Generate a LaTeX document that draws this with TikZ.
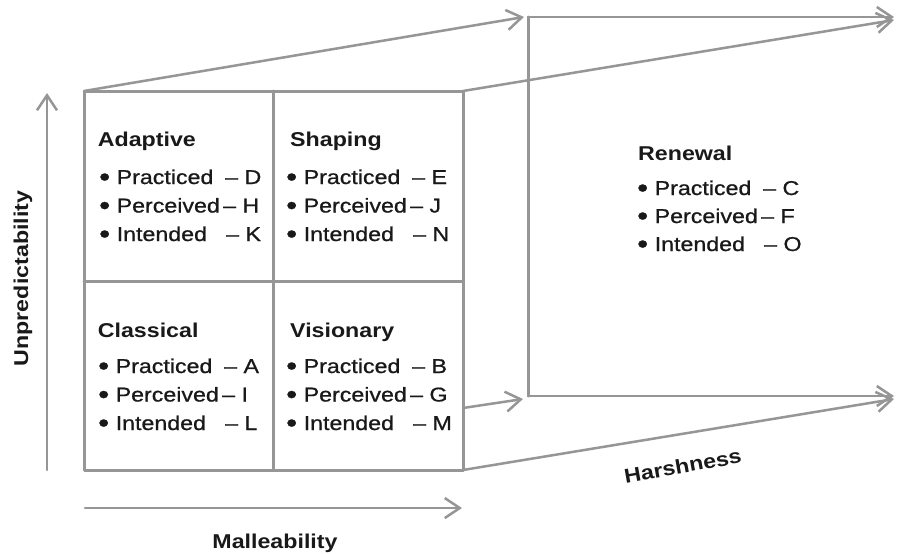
\documentclass[tikz,border=0pt]{standalone}
\usepackage{fontspec}
\setmainfont{Liberation Sans}[FakeStretch=1.16]
\newfontfamily\itmfont{Liberation Sans}[FakeStretch=1.16, FakeBold=0.8]
\usetikzlibrary{arrows.meta}
\definecolor{lineg}{RGB}{150,150,150}
\definecolor{txt}{RGB}{25,25,25}
\newcommand{\bigbul}{\makebox[16.5pt][l]{\hspace{-1pt}\raisebox{-2pt}{\scalebox{1.35}{\textbullet}}}}
\newcommand{\itemline}[3]{\makebox[#3pt][l]{\bigbul #1}–\ #2}
\begin{document}
\begin{tikzpicture}[x=1pt,y=-1pt,
  ln/.style={draw=lineg, line width=3pt, line cap=round, line join=round},
  arr/.style={draw=lineg, line width=2.5pt, line cap=round, -{Straight Barb[length=15pt,width=20pt]}},
  ttl/.style={anchor=base west, inner sep=0pt, text=txt, font=\fontsize{20}{24}\selectfont\bfseries},
  itm/.style={anchor=base west, inner sep=0pt, text=txt, font=\itmfont\fontsize{20}{24}\selectfont},
  axl/.style={inner sep=0pt, text=txt, font=\fontsize{20}{24}\selectfont\bfseries}]
\fill[white] (0,0) rectangle (897,554);
\useasboundingbox (0,0) rectangle (897,554);
% front square corners
\coordinate (fTL) at (84,91);
\coordinate (fTR) at (463,91);
\coordinate (fBL) at (84,470);
\coordinate (fBR) at (463,470);
\coordinate (fMT) at (273,91);
\coordinate (fMB) at (273,470);
\coordinate (fML) at (84,281);
\coordinate (fMR) at (463,281);
\coordinate (fR2) at (463,408);
% back rectangle
\coordinate (bTL) at (528,17);
\coordinate (bBL) at (528,396);
\coordinate (bTLt) at (524,17);
\coordinate (bBLt) at (523,399);
\coordinate (tTop) at (894,17);
\coordinate (tDiag) at (894,20);
\coordinate (tBot) at (894,396);
\coordinate (tBot2) at (894,399);
% axes
\coordinate (vA0) at (47,470);
\coordinate (vA1) at (47,93);
\coordinate (hA0) at (85,508);
\coordinate (hA1) at (462,508);

% front square
\draw[ln] (fTL) rectangle (fBR);
\draw[ln] (fMT) -- (fMB);
\draw[ln] (fML) -- (fMR);
% back
\draw[ln] (bTL) -- (bBL);
\draw[arr] (bTL) -- (tTop);
\draw[arr] (bBL) -- (tBot);
% perspective connectors
\draw[arr] (fTL) -- (bTLt);
\draw[arr] (fTR) -- (tDiag);
\draw[arr] (fR2) -- (bBLt);
\draw[arr] (fBR) -- (tBot2);
% axes
\draw[arr] (vA0) -- (vA1);
\draw[arr] (hA0) -- (hA1);

% quadrant texts
\node[ttl] (adT) at (97.7,146) {Adaptive};
\node[itm] (ad1) at (100,184) {\itemline{Practiced}{D}{125}};
\node[itm] (ad2) at (100,212.5) {\itemline{Perceived}{H}{123}};
\node[itm] (ad3) at (100,241) {\itemline{Intended}{K}{126}};

\node[ttl] (shT) at (290,146) {Shaping};
\node[itm] (sh1) at (287,184) {\itemline{Practiced}{E}{125}};
\node[itm] (sh2) at (287,212.5) {\itemline{Perceived}{J}{123}};
\node[itm] (sh3) at (287,241) {\itemline{Intended}{N}{126}};

\node[ttl] (clT) at (97.7,337) {Classical};
\node[itm] (cl1) at (99,373) {\itemline{Practiced}{A}{125}};
\node[itm] (cl2) at (99,401.5) {\itemline{Perceived}{I}{123}};
\node[itm] (cl3) at (99,430) {\itemline{Intended}{L}{126}};

\node[ttl] (viT) at (290,337) {Visionary};
\node[itm] (vi1) at (287,373) {\itemline{Practiced}{B}{125}};
\node[itm] (vi2) at (287,401.5) {\itemline{Perceived}{G}{123}};
\node[itm] (vi3) at (287,430) {\itemline{Intended}{M}{126}};

\node[ttl] (reT) at (638,160) {Renewal};
\node[itm] (re1) at (638,195) {\itemline{Practiced}{C}{125}};
\node[itm] (re2) at (638,223) {\itemline{Perceived}{F}{123}};
\node[itm] (re3) at (638,251) {\itemline{Intended}{O}{126}};

% axis labels
\node[axl, rotate=90] (unp) at (23,278.5) {Unpredictability};
\node[axl, anchor=base] (mal) at (275,548) {Malleability};
\node[axl, anchor=base, rotate=10] (har) at (684,473) {Harshness};
\end{tikzpicture}
\end{document}
